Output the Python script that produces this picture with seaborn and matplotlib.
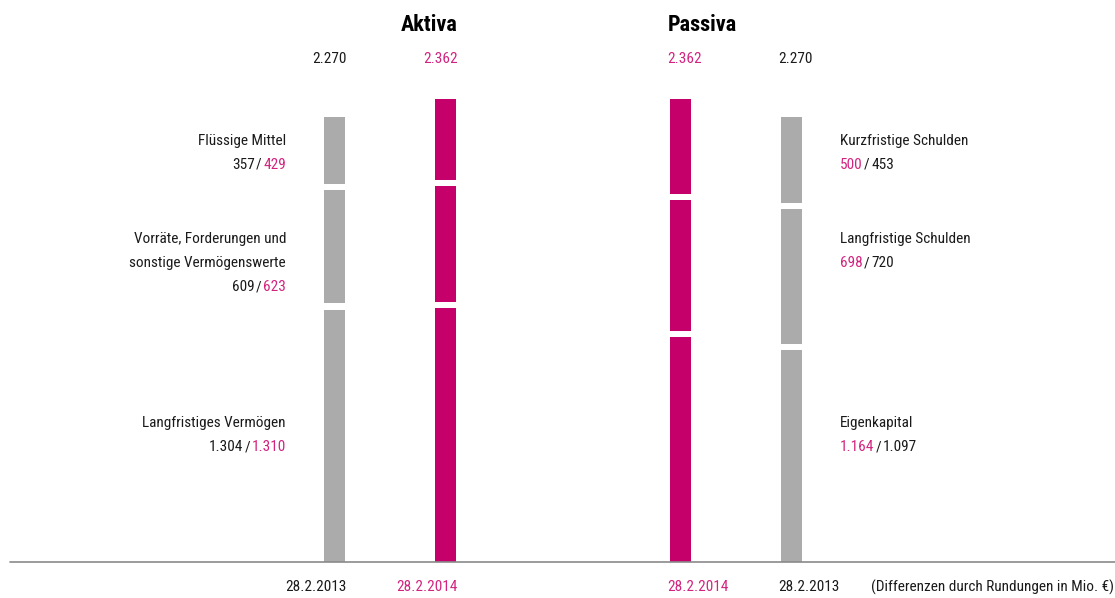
import numpy as np
import matplotlib
matplotlib.use("Agg")
import matplotlib.pyplot as plt
import matplotlib.transforms as mtrans
import seaborn as sns

# Bilanz in Mio. €, segments listed bottom -> top
aktiva_items = ["Langfristiges Vermögen",
                "Vorräte, Forderungen und\nsonstige Vermögenswerte",
                "Flüssige Mittel"]
aktiva_2013 = [1304, 609, 357]
aktiva_2014 = [1310, 623, 429]

passiva_items = ["Eigenkapital", "Langfristige Schulden", "Kurzfristige Schulden"]
passiva_2014 = [1164, 698, 500]
passiva_2013 = [1097, 720, 453]

totals = {"2013": 2270, "2014": 2362}
dates = {"2013": "28.2.2013", "2014": "28.2.2014"}
note = "(Differenzen durch Rundungen in Mio. €)"

GRAY = "#ababab"
MAG = "#c5006b"
MAG_TXT = "#d2237f"
TXT = "#1a1a1a"

sns.set_theme(style="white")
plt.rcParams["font.family"] = ["Roboto Condensed", "DejaVu Sans"]
FS = 11


def fmt(v):
    return f"{v:,}".replace(",", ".")


W, H = 1115, 598
base_px = 562
px_per_unit = 0.196
slot = 111  # px between neighbouring bars

fig = plt.figure(figsize=(W / 100, H / 100), dpi=100)
ax = fig.add_axes([0, (H - base_px) / H, 1, base_px / H])
ax.set_ylim(0, base_px / px_per_unit)
ax.set_xlim(-334.5 / slot, (W - 334.5) / slot)
ax.set_xticks([])
ax.set_yticks([])
sns.despine(ax=ax, left=True, bottom=True)

xpos = [0, 1, 3.12, 4.12]
bar_w = 21 / slot
gap = 6.5 / px_per_unit

cols = [("Aktiva", "2013", aktiva_2013, GRAY),
        ("Aktiva", "2014", aktiva_2014, MAG),
        ("Passiva", "2014", passiva_2014, MAG),
        ("Passiva", "2013", passiva_2013, GRAY)]

tr = mtrans.blended_transform_factory(ax.transData, fig.transFigure)


def fy(px):
    return 1 - px / H


for x, (side, year, vals, color) in zip(xpos, cols):
    vals = np.array(vals)
    tops = np.cumsum(vals)
    bottoms = tops - vals
    lo = np.where(bottoms > 0, bottoms + gap / 2, 0)
    hi = np.where(np.arange(len(vals)) < len(vals) - 1, tops - gap / 2, tops)
    ax.bar(x, hi - lo, bottom=lo, width=bar_w, color=color, linewidth=0)

    tcol = MAG_TXT if year == "2014" else TXT
    if side == "Aktiva":
        xe, ha = x + bar_w / 2 + 2 / slot, "right"
    else:
        xe, ha = x - bar_w / 2 - 3 / slot, "left"
    ax.text(xe, fy(59), fmt(totals[year]), ha=ha, va="center",
            color=tcol, fontsize=FS, transform=tr)
    ax.text(xe, fy(587), dates[year], ha=ha, va="center",
            color=tcol, fontsize=FS, transform=tr)
    if year == "2014":
        ax.text(xe, fy(25), side, ha=ha, va="center", color="black",
                fontsize=16, fontweight="bold", transform=tr)

ax.axhline(0, xmin=10 / W, xmax=1, color="#8a8a8a", lw=1.2, clip_on=False)

ax.text((871 - 334.5) / slot, fy(587), note, ha="left", va="center",
        color=TXT, fontsize=FS, transform=tr)


def colored_line(x, y, parts, ha):
    # parts in reading order: (text, colour)
    if ha == "left":
        t = ax.text(x, y, parts[0][0], color=parts[0][1], ha="left",
                    va="center", fontsize=FS, transform=tr)
        for s, c in parts[1:]:
            t = ax.annotate(s, xy=(1, 0), xycoords=t, xytext=(1, 0),
                            textcoords="offset points", ha="left",
                            va="bottom", color=c, fontsize=FS)
    else:
        parts = parts[::-1]
        t = ax.text(x, y, parts[0][0], color=parts[0][1], ha="right",
                    va="center", fontsize=FS, transform=tr)
        for s, c in parts[1:]:
            t = ax.annotate(s, xy=(0, 0), xycoords=t, xytext=(-1, 0),
                            textcoords="offset points", ha="right",
                            va="bottom", color=c, fontsize=FS)


row_px = [423, 239, 141]
line_h = 24

for name, v13, v14, ypx in zip(aktiva_items, aktiva_2013, aktiva_2014, row_px):
    lines = name.split("\n")
    xl = (286 - 334.5) / slot
    for i, ln in enumerate(lines):
        ax.text(xl, fy(ypx + i * line_h), ln, ha="right", va="center",
                color=TXT, fontsize=FS, transform=tr)
    colored_line(xl, fy(ypx + len(lines) * line_h),
                 [(fmt(v13), TXT), ("/", TXT), (fmt(v14), MAG_TXT)], "right")

for name, v14, v13, ypx in zip(passiva_items, passiva_2014, passiva_2013, row_px):
    xl = (840 - 334.5) / slot
    ax.text(xl, fy(ypx), name, ha="left", va="center",
            color=TXT, fontsize=FS, transform=tr)
    colored_line(xl, fy(ypx + line_h),
                 [(fmt(v14), MAG_TXT), ("/", TXT), (fmt(v13), TXT)], "left")

fig.savefig("out.png", dpi=100)
